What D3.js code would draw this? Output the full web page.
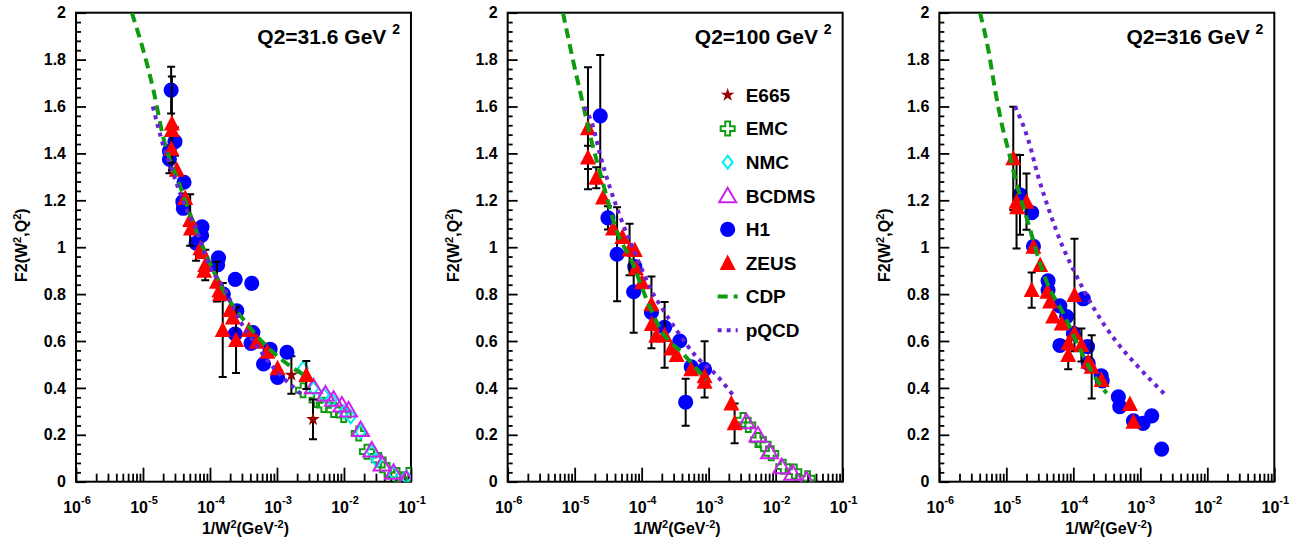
<!DOCTYPE html>
<html lang="en">
<head>
<meta charset="UTF-8">
<title>F2(W2,Q2) vs 1/W2</title>
<script src="https://d3js.org/d3.v7.min.js"></script>
<style>
  body { margin: 0; background: #fff; }
  svg text { font-family: "Liberation Sans", Arial, Helvetica, sans-serif; font-weight: bold; fill: #000; }
</style>
</head>
<body>
<svg id="chart" width="1295" height="555"></svg>
<script>
const Q2_LABELS = ["31.6", "100", "316"];
const X_DECADES = [-6, -5, -4, -3, -2, -1];
const Y_TICKS = [0, 0.2, 0.4, 0.6, 0.8, 1, 1.2, 1.4, 1.6, 1.8, 2];

// Q2 = 31.6
const E665_31 = [[1.64e-3, 0.455, 0.08], [3.45e-3, 0.266, 0.085]];
const EMC_31 = [[2.45e-3, 0.39], [3.9e-3, 0.348], [5.0e-3, 0.327], [7.0e-3, 0.306], [9.9e-3, 0.284],
  [1.66e-2, 0.206], [2.2e-2, 0.128], [3.3e-2, 0.093], [4.4e-2, 0.05], [6.2e-2, 0.029], [9.3e-2, 0.029]];
const NMC_31 = [[2.45e-3, 0.484], [3.5e-3, 0.398], [5.0e-3, 0.37], [6.6e-3, 0.348], [1.0e-2, 0.298],
  [1.26e-2, 0.277], [1.77e-2, 0.213], [2.6e-2, 0.128], [3.1e-2, 0.09], [5.5e-2, 0.037], [8.5e-2, 0.02]];
const BCDMS_31 = [[3.5e-3, 0.405], [5.3e-3, 0.374], [7.0e-3, 0.352], [9.3e-3, 0.327], [1.17e-2, 0.306],
  [1.77e-2, 0.223], [2.6e-2, 0.135], [3.7e-2, 0.076], [5.5e-2, 0.04], [8.5e-2, 0.012]];
const H1_31 = [[2.63e-5, 1.67, 0.10], [3.0e-5, 1.45, 0.06], [2.48e-5, 1.41, 0], [2.48e-5, 1.375, 0.06],
  [4.1e-5, 1.277, 0], [3.94e-5, 1.194, 0.035], [4.0e-5, 1.166, 0], [7.6e-5, 1.087, 0], [7.5e-5, 1.05, 0],
  [6.2e-5, 1.017, 0.075], [1.34e-4, 0.955, 0], [1.3e-4, 0.925, 0], [2.38e-4, 0.863, 0], [4.2e-4, 0.846, 0],
  [1.58e-4, 0.80, 0], [2.52e-4, 0.729, 0], [2.38e-4, 0.63, 0], [4.37e-4, 0.636, 0], [4.1e-4, 0.59, 0],
  [7.9e-4, 0.565, 0], [6.3e-4, 0.502, 0], [1.41e-3, 0.552, 0], [1.02e-3, 0.445, 0]];
const ZEUS_31 = [[2.7e-5, 1.528, 0.20], [2.7e-5, 1.50, 0], [2.65e-5, 1.42, 0.06], [3.2e-5, 1.33, 0],
  [4.27e-5, 1.21, 0], [5.06e-5, 1.116, 0.11], [5.2e-5, 1.08, 0], [7.7e-5, 0.98, 0], [7.2e-5, 0.995, 0],
  [8.5e-5, 0.924, 0.065], [8.2e-5, 0.90, 0], [1.27e-4, 0.853, 0.085], [1.38e-4, 0.815, 0], [1.42e-4, 0.80, 0],
  [2.0e-4, 0.732, 0], [2.2e-4, 0.70, 0], [1.55e-4, 0.647, 0.20], [2.45e-4, 0.604, 0.14], [3.8e-4, 0.647, 0],
  [5.0e-4, 0.597, 0], [7.2e-4, 0.554, 0], [1.02e-3, 0.484, 0], [2.74e-3, 0.455, 0.06]];
const CDP_31 = [[6.8e-6, 2.0], [1.01e-5, 1.84], [1.43e-5, 1.67], [2.0e-5, 1.47], [3.6e-5, 1.258],
  [7.1e-5, 1.03], [1.79e-4, 0.79], [3.36e-4, 0.682], [6.7e-4, 0.583], [1.49e-3, 0.498], [2.9e-3, 0.445]];
const PQCD_31 = [[1.4e-5, 1.60], [1.7e-5, 1.507], [2.14e-5, 1.407], [2.7e-5, 1.33], [3.37e-5, 1.25],
  [4.5e-5, 1.16], [6.0e-5, 1.087], [1.0e-4, 0.917], [1.69e-4, 0.817], [2.67e-4, 0.697], [4.9e-4, 0.583],
  [7.8e-4, 0.505], [1.33e-3, 0.434], [1.73e-3, 0.405], [2.37e-3, 0.37]];

// Q2 = 100
const E665_100 = [];
const EMC_100 = [[3.25e-3, 0.263], [3.9e-3, 0.242], [5.45e-3, 0.178], [6.6e-3, 0.16], [8.6e-3, 0.121],
  [1.3e-2, 0.064], [1.9e-2, 0.043], [3.0e-2, 0.015]];
const NMC_100 = [];
const BCDMS_100 = [[3.66e-3, 0.256], [5.45e-3, 0.199], [8.1e-3, 0.128], [1.23e-2, 0.064], [1.8e-2, 0.036],
  [2.9e-2, 0.007]];
const H1_100 = [[2.41e-5, 1.56, 0.26], [3.14e-5, 1.125, 0.05], [4.3e-5, 0.97, 0.2], [7.9e-5, 0.917, 0],
  [7.6e-5, 0.81, 0.175], [1.4e-4, 0.722, 0.153], [2.2e-4, 0.658, 0], [3.7e-4, 0.60, 0], [5.5e-4, 0.49, 0],
  [8.7e-4, 0.479, 0.12], [4.54e-4, 0.339, 0.10]];
const ZEUS_100 = [[1.58e-5, 1.507, 0.26], [1.58e-5, 1.383, 0.05], [2.1e-5, 1.296, 0.045], [2.65e-5, 1.212, 0],
  [3.74e-5, 1.08, 0], [5.15e-5, 1.043, 0], [6.6e-5, 0.99, 0.11], [7.9e-5, 0.988, 0], [8.2e-5, 0.91, 0],
  [1.01e-4, 0.85, 0], [1.4e-4, 0.757, 0], [1.42e-4, 0.672, 0], [1.65e-4, 0.622, 0], [2.2e-4, 0.626, 0.14],
  [2.77e-4, 0.568, 0], [3.33e-4, 0.54, 0], [5.5e-4, 0.48, 0], [8.7e-4, 0.45, 0], [8.7e-4, 0.426, 0],
  [2.18e-3, 0.334, 0], [2.44e-3, 0.249, 0.085]];
const CDP_100 = [[6.7e-6, 2.0], [9.4e-6, 1.80], [1.26e-5, 1.64], [1.77e-5, 1.457], [2.65e-5, 1.273],
  [4.2e-5, 1.073], [7.4e-5, 0.93], [1.1e-4, 0.80], [2.0e-4, 0.64], [4.1e-4, 0.547], [9.2e-4, 0.434]];
const PQCD_100 = [[1.41e-5, 1.597], [1.88e-5, 1.514], [2.37e-5, 1.40], [3.33e-5, 1.258], [4.98e-5, 1.116],
  [8.8e-5, 0.945], [1.39e-4, 0.817], [2.1e-4, 0.732], [3.3e-4, 0.647], [6.55e-4, 0.533], [1.3e-3, 0.455],
  [2.3e-3, 0.37]];

// Q2 = 316
const E665_316 = [];
const EMC_316 = [];
const NMC_316 = [];
const BCDMS_316 = [];
const H1_316 = [[1.6e-5, 1.223, 0.17], [2.39e-5, 1.147, 0], [2.54e-5, 1.004, 0], [4.2e-5, 0.857, 0],
  [4.2e-5, 0.817, 0], [6.3e-5, 0.75, 0], [7.95e-5, 0.704, 0], [6.3e-5, 0.581, 0], [1.41e-4, 0.78, 0],
  [1.0e-4, 0.633, 0], [1.63e-4, 0.576, 0], [1.67e-4, 0.505, 0], [2.6e-4, 0.452, 0], [2.7e-4, 0.43, 0],
  [4.7e-4, 0.362, 0], [4.94e-4, 0.32, 0], [7.9e-4, 0.26, 0], [1.1e-3, 0.249, 0], [1.48e-3, 0.281, 0],
  [2.08e-3, 0.139, 0]];
const ZEUS_316 = [[1.27e-5, 1.379, 0.22], [1.42e-5, 1.194, 0.2], [1.45e-5, 1.17, 0], [2.0e-5, 1.194, 0.12],
  [2.54e-5, 1.002, 0], [3.2e-5, 0.924, 0], [2.39e-5, 0.817, 0.075], [4.1e-5, 0.81, 0], [4.5e-5, 0.768, 0],
  [5.0e-5, 0.704, 0], [6.7e-5, 0.675, 0], [1.04e-4, 0.796, 0.24], [1.04e-4, 0.633, 0], [8.4e-5, 0.59, 0],
  [8.4e-5, 0.54, 0.06], [1.32e-4, 0.583, 0.07], [1.67e-4, 0.512, 0], [1.88e-4, 0.49, 0.135],
  [2.64e-4, 0.434, 0], [7.0e-4, 0.331, 0], [7.9e-4, 0.256, 0]];
const CDP_316 = [[4.05e-6, 2.0], [5.4e-6, 1.84], [6.8e-6, 1.67], [8.5e-6, 1.528], [1.07e-5, 1.414],
  [1.51e-5, 1.244], [2.13e-5, 1.102], [3.18e-5, 0.931], [4.0e-5, 0.853], [7.5e-5, 0.704], [1.27e-4, 0.562],
  [1.88e-4, 0.469], [3.14e-4, 0.377]];
const PQCD_316 = [[1.35e-5, 1.60], [2.13e-5, 1.457], [3.0e-5, 1.30], [4.5e-5, 1.145], [6.3e-5, 1.031],
  [1.06e-4, 0.89], [2.1e-4, 0.732], [4.2e-4, 0.604], [9.3e-4, 0.49], [2.47e-3, 0.365]];

const panels = [
  {q2: Q2_LABELS[0], e665: E665_31, emc: EMC_31, nmc: NMC_31, bcdms: BCDMS_31, h1: H1_31, zeus: ZEUS_31, cdp: CDP_31, pqcd: PQCD_31},
  {q2: Q2_LABELS[1], e665: E665_100, emc: EMC_100, nmc: NMC_100, bcdms: BCDMS_100, h1: H1_100, zeus: ZEUS_100, cdp: CDP_100, pqcd: PQCD_100},
  {q2: Q2_LABELS[2], e665: E665_316, emc: EMC_316, nmc: NMC_316, bcdms: BCDMS_316, h1: H1_316, zeus: ZEUS_316, cdp: CDP_316, pqcd: PQCD_316}
];

// marker shapes (ROOT style look-alikes)
const markers = {
  star: {d: d3.symbol(d3.symbolStar, 58)(), fill: "#990000", stroke: "none"},
  cross: {d: "M-2.4,-7H2.4V-2.4H7V2.4H2.4V7H-2.4V2.4H-7V-2.4H-2.4Z", fill: "none", stroke: "#109a10"},
  diamond: {d: "M0,-6.5L5,0L0,6.5L-5,0Z", fill: "none", stroke: "#00f0f0"},
  otri: {d: "M0,-8L8.5,6.5H-8.5Z", fill: "none", stroke: "#cc22ee"},
  circle: {d: d3.symbol(d3.symbolCircle, 180)(), fill: "#0000ff", stroke: "none"},
  tri: {d: "M0,-8.5L8,7H-8Z", fill: "#ff0000", stroke: "none"}
};
const curveStyle = {
  cdp: {color: "#109a10", dash: "10,6"},
  pqcd: {color: "#6a22d4", dash: "4,5"}
};

const svg = d3.select("#chart");
const padW = 1295 / 3;
const margin = {left: 76, right: 20.7, top: 12.7, bottom: 73.3};
const plotW = padW - margin.left - margin.right;
const plotH = 555 - margin.top - margin.bottom;

function supText(sel, parts, supSize, lift) {
  // parts: array of [string, isSup]
  parts.forEach(([s, sup], k) => {
    const prevSup = k > 0 && parts[k - 1][1];
    const t = sel.append("tspan").text(s);
    if (sup) t.attr("font-size", supSize).attr("dy", -lift);
    else if (prevSup) t.attr("dy", lift);
  });
}

panels.forEach((p, i) => {
  const g = svg.append("g")
    .attr("transform", `translate(${i * padW + margin.left},${margin.top})`);

  const x = d3.scaleLog().domain([1e-6, 1e-1]).range([0, plotW]);
  const y = d3.scaleLinear().domain([0, 2]).range([plotH, 0]);

  g.append("clipPath").attr("id", "clip" + i)
    .append("rect").attr("width", plotW).attr("height", plotH);

  // y axis: major + minor ticks, pointing inwards
  const yMinor = d3.range(0, 2.0001, 0.04).filter(v => Math.abs(v * 5 - Math.round(v * 5)) > 1e-6);
  g.append("g").call(d3.axisLeft(y).tickValues(yMinor).tickSize(-5).tickFormat(""))
    .call(a => a.select(".domain").remove());
  g.append("g").call(d3.axisLeft(y).tickValues(Y_TICKS).tickSize(-10).tickPadding(10)
      .tickFormat(d => String(+d.toFixed(1))))
    .call(a => a.select(".domain").remove())
    .call(a => a.selectAll("text").attr("font-size", 16));

  // x axis: decades + 2..9 minor ticks
  const xMinor = [];
  X_DECADES.slice(0, -1).forEach(e => { for (let k = 2; k <= 9; k++) xMinor.push(k * Math.pow(10, e)); });
  const xMajor = X_DECADES.map(e => Math.pow(10, e));
  g.append("g").attr("transform", `translate(0,${plotH})`)
    .call(d3.axisBottom(x).tickValues(xMinor).tickSize(-8).tickFormat(""))
    .call(a => a.select(".domain").remove());
  g.append("g").attr("transform", `translate(0,${plotH})`)
    .call(d3.axisBottom(x).tickValues(xMajor).tickSize(-14).tickFormat(""))
    .call(a => a.select(".domain").remove());
  g.selectAll(".tick line").attr("stroke-width", 1.8);

  X_DECADES.forEach(e => {
    const t = g.append("text").attr("x", x(Math.pow(10, e)) + 1).attr("y", plotH + 31)
      .attr("text-anchor", "middle").attr("font-size", 16);
    supText(t, [["10", false], [String(e), true]], 11, 9);
  });

  // frame
  g.append("rect").attr("width", plotW).attr("height", plotH)
    .attr("fill", "none").attr("stroke", "#000").attr("stroke-width", 2);

  // titles
  const xt = g.append("text").attr("x", plotW / 2 + 2).attr("y", plotH + 52.5)
    .attr("text-anchor", "middle").attr("font-size", 16);
  supText(xt, [["1/W", false], ["2", true], ["(GeV", false], ["-2", true], [")", false]], 11, 6);

  const yt = g.append("text")
    .attr("transform", `translate(-49,${plotH / 2 - 2}) rotate(-90)`)
    .attr("text-anchor", "middle").attr("font-size", 16);
  supText(yt, [["F2(W", false], ["2", true], [",Q", false], ["2", true], [")", false]], 11, 6);

  const ht = g.append("text").attr("x", plotW - 11).attr("y", 31.5)
    .attr("text-anchor", "end").attr("font-size", 21);
  supText(ht, [["Q2=" + p.q2 + " GeV ", false], ["2", true]], 14, 10);

  // data
  const plot = g.append("g").attr("clip-path", `url(#clip${i})`);

  function drawSeries(data, mk) {
    const withErr = data.filter(d => d[2]);
    const eb = plot.append("g").attr("stroke", "#000").attr("stroke-width", 2);
    withErr.forEach(d => {
      const cx = x(d[0]), y1 = y(d[1] + d[2]), y2 = y(d[1] - d[2]);
      eb.append("line").attr("x1", cx).attr("x2", cx).attr("y1", y1).attr("y2", y2);
      eb.append("line").attr("x1", cx - 4).attr("x2", cx + 4).attr("y1", y1).attr("y2", y1);
      eb.append("line").attr("x1", cx - 4).attr("x2", cx + 4).attr("y1", y2).attr("y2", y2);
    });
    plot.append("g").selectAll("path").data(data).join("path")
      .attr("transform", d => `translate(${x(d[0])},${y(d[1])})`)
      .attr("d", mk.d).attr("fill", mk.fill).attr("stroke", mk.stroke).attr("stroke-width", 2);
  }

  drawSeries(p.emc, markers.cross);
  drawSeries(p.nmc, markers.diamond);
  drawSeries(p.bcdms, markers.otri);
  drawSeries(p.e665, markers.star);
  drawSeries(p.h1, markers.circle);
  drawSeries(p.zeus, markers.tri);

  const line = d3.line().x(d => x(d[0])).y(d => y(d[1])).curve(d3.curveMonotoneX);
  [["cdp", p.cdp], ["pqcd", p.pqcd]].forEach(([k, data]) => {
    plot.append("path").datum(data).attr("d", line)
      .attr("fill", "none").attr("stroke", curveStyle[k].color)
      .attr("stroke-width", 4).attr("stroke-dasharray", curveStyle[k].dash);
  });

  // legend lives in the middle pad
  if (i === 1) {
    const legendRows = [
      ["E665", markers.star], ["EMC", markers.cross], ["NMC", markers.diamond], ["BCDMS", markers.otri],
      ["H1", markers.circle], ["ZEUS", markers.tri], ["CDP", "cdp"], ["pQCD", "pqcd"]
    ];
    const lg = g.append("g");
    legendRows.forEach(([name, mk], r) => {
      const cy = 95 + r * 33.6 - margin.top;
      if (typeof mk === "string") {
        lg.append("line").attr("x1", 210).attr("x2", 230).attr("y1", cy).attr("y2", cy)
          .attr("stroke", curveStyle[mk].color).attr("stroke-width", 4)
          .attr("stroke-dasharray", curveStyle[mk].dash);
      } else {
        lg.append("path").attr("transform", `translate(220,${cy})`)
          .attr("d", mk.d).attr("fill", mk.fill).attr("stroke", mk.stroke).attr("stroke-width", 2);
      }
      lg.append("text").attr("x", 238).attr("y", cy).attr("dy", "0.36em")
        .attr("font-size", 19).text(name);
    });
  }
});
</script>
</body>
</html>
